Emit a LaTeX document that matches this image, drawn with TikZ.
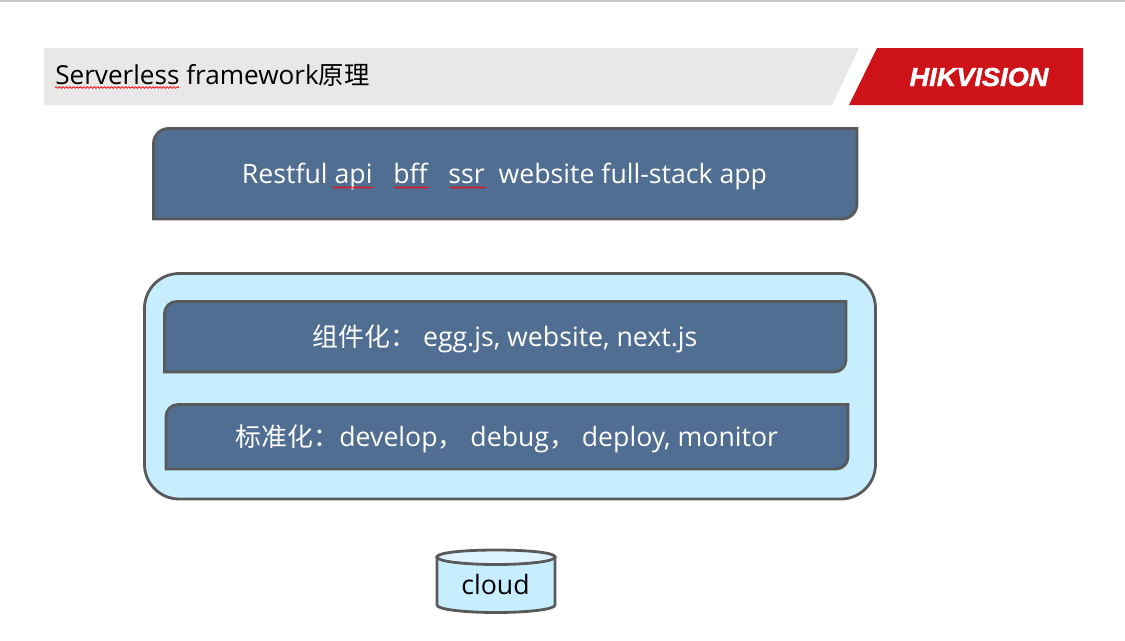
\documentclass[tikz,border=0pt]{standalone}
\usepackage{fontspec}
\setmainfont{Open Sans}
\newfontfamily\cjk[Scale=0.97]{Noto Sans CJK SC}
\newfontfamily\logofont[FakeBold=1.4]{Liberation Sans}
\usetikzlibrary{decorations.pathmorphing}
\definecolor{boxblue}{HTML}{506D92}
\definecolor{edgegray}{HTML}{595959}
\definecolor{paleblue}{HTML}{C6EEFF}
\definecolor{palertop}{HTML}{DDF3FF}
\definecolor{bandgray}{HTML}{E9E7E8}
\definecolor{brandred}{HTML}{CD1218}
\newcommand{\diagbox}[6][]{%
 \draw[#1] (#2,#5) -- (#2,#3+#6) .. controls (#2,#3+0.45*#6) and (#2+0.45*#6,#3) .. (#2+#6,#3)
  -- (#4,#3) -- (#4,#5-#6) .. controls (#4,#5-0.45*#6) and (#4-0.45*#6,#5) .. (#4-#6,#5) -- cycle;}
\tikzset{
 x=0.75pt,y=-0.75pt,
 block/.style={fill=boxblue,draw=edgegray,line width=2.1pt,line join=miter},
 whitetext/.style={text=white,font=\fontsize{20pt}{24pt}\selectfont,inner sep=0pt,anchor=base},
 blacktext/.style={text=black,inner sep=0pt},
 spell/.style={draw=red,line width=0.55pt,decorate,decoration={snake,amplitude=0.6pt,segment length=2.6pt}}
}
\begin{document}
\begin{tikzpicture}
\useasboundingbox (0,0) rectangle (1125,640);
\fill[white] (0,0) rectangle (1125,640);
\draw[draw=black!22,line width=1.1pt] (0,1) -- (1125,1);
% header
\fill[bandgray] (44,48) -- (859,48) -- (832,105) -- (44,105) -- cycle;
\fill[brandred] (877,48) -- (1083,48) -- (1083,105) -- (849,105) -- cycle;
\node[blacktext,anchor=base west,font=\fontsize{19.6pt}{24pt}\selectfont] (title) at (55,84) {Serverless framework{\cjk 原理}};
\node[text=white,inner sep=0pt,anchor=base,xscale=1.045,font=\logofont\fontsize{19.5pt}{24pt}\selectfont\bfseries\itshape] (logo) at (979,86) {HIKVISION};
\draw[spell] (55,87.5) -- (179,87.5);
% top box
\diagbox[block]{153.5}{128.5}{857}{219}{15}
\node[whitetext] (apps) at (504.5,183) {Restful api\ \ \ bff\ \ \ ssr\ \ website full-stack app};
\draw[spell] (333,187.5) -- (373,187.5);
\draw[spell] (394,187.5) -- (429,187.5);
\draw[spell] (450,187.5) -- (486,187.5);
% container
\draw[fill=paleblue,draw=edgegray,line width=2.1pt,rounded corners=26pt] (144.5,273.5) rectangle (875.5,499);
\diagbox[block]{164.5}{301.5}{846}{372}{12}
\node[whitetext] (comp) at (505,346) {{\cjk 组件化：}\ egg.js, website, next.js};
\diagbox[block]{166}{404.5}{848}{469}{12}
\node[whitetext] (std) at (507,446) {{\cjk 标准化：}develop{\cjk ，}\ debug{\cjk ，}\ deploy, monitor};
% cylinder
\draw[fill=paleblue,draw=edgegray,line width=2.1pt] (437,557) -- (437,605) .. controls (437,609.5) and (465,612.5) .. (496,612.5) .. controls (527,612.5) and (555,609.5) .. (555,605) -- (555,557) -- cycle;
\draw[fill=palertop,draw=edgegray,line width=2.1pt] (437,557) .. controls (437,552.5) and (465,550) .. (496,550) .. controls (527,550) and (555,552.5) .. (555,557) .. controls (555,561.5) and (527,564.5) .. (496,564.5) .. controls (465,564.5) and (437,561.5) .. (437,557) -- cycle;
\node[blacktext,anchor=base,font=\fontsize{20pt}{24pt}\selectfont] (cloud) at (495.5,594) {cloud};
\end{tikzpicture}
\end{document}
